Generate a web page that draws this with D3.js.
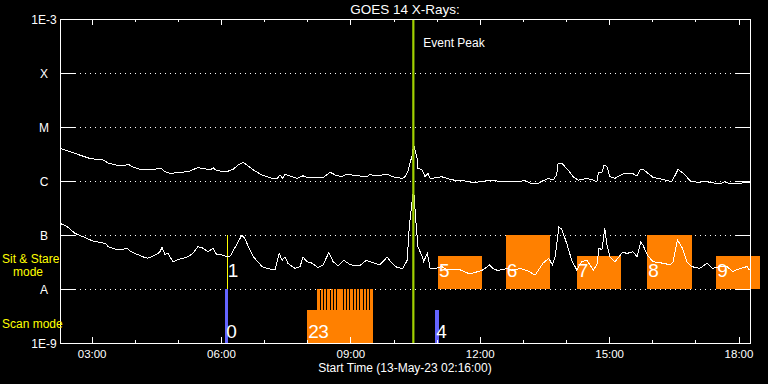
<!DOCTYPE html>
<html><head><meta charset="utf-8">
<script src="https://cdn.jsdelivr.net/npm/d3@7"></script>
<style>
html,body{margin:0;padding:0;background:#000;}
svg{display:block;background:#000;}
text{font-family:"Liberation Sans",Arial,sans-serif;fill:#fff;}
</style></head><body>
<svg id="chart" width="768" height="384"></svg>
<script>
// ---------- data ----------
const DAY = "2023-05-13";
const startTime = "02:16:00";
const endTime = "18:16:00";
const titleText = "GOES 14 X-Rays:";
const xAxisTitle = "Start Time (13-May-23 02:16:00)";
const levelValues = [1e-9, 1e-8, 1e-7, 1e-6, 1e-5, 1e-4, 1e-3];
const levelLabels = ["1E-9", "A", "B", "C", "M", "X", "1E-3"];
const gridLevels = [1e-8, 1e-7, 1e-6, 1e-5, 1e-4];
const peakTime = "10:27:36";
const peakLabel = "Event Peak";

// GOES long channel (1-8 A)
const longTimes = ["02:16","02:30","02:44","02:58","03:16","03:23","03:33","03:46","03:51","03:56",
"04:07","04:25","04:32","04:38","04:42","04:49","05:03","05:17","05:27","05:35",
"05:45","05:49","05:54","06:08","06:17","06:24","06:31","06:36","06:45","06:53",
"06:57","07:11","07:18","07:22","07:26","07:29","07:39","07:46","07:54","08:01",
"08:22","08:32","08:39","08:48","08:55","09:11","09:23","09:27","09:34","09:52",
"09:58","10:12","10:16","10:20","10:26","10:28","10:33","10:34","10:40","10:44",
"10:48","10:51","11:01","11:07","11:14","11:24","11:33","11:51","12:10","12:18",
"12:28","12:46","13:03","13:13","13:20","13:28","13:36","13:42","13:47","13:49",
"13:54","14:03","14:10","14:17","14:29","14:38","14:43","14:45","14:50","14:53",
"14:57","15:01","15:08","15:12","15:19","15:32","15:39","15:43","15:47","15:54",
"16:01","16:15","16:27","16:32","16:36","16:43","16:53","17:02","17:16","17:34",
"17:41","17:48","18:02","18:09","18:16"];
const longFlux = [4.0e-6,3.5e-6,3.0e-6,2.6e-6,2.45e-6,2.15e-6,1.98e-6,1.92e-6,2.06e-6,1.84e-6,
1.65e-6,1.60e-6,1.72e-6,1.67e-6,1.49e-6,1.39e-6,1.43e-6,1.53e-6,1.76e-6,1.72e-6,
1.60e-6,1.76e-6,1.55e-6,1.49e-6,1.65e-6,1.98e-6,2.22e-6,1.98e-6,1.60e-6,1.39e-6,
1.29e-6,1.12e-6,1.09e-6,1.29e-6,1.12e-6,1.33e-6,1.20e-6,1.12e-6,1.25e-6,1.15e-6,
1.15e-6,1.45e-6,1.29e-6,1.20e-6,1.33e-6,1.25e-6,1.20e-6,1.33e-6,1.25e-6,1.33e-6,
1.20e-6,1.12e-6,1.20e-6,1.49e-6,3.03e-6,4.64e-6,2.63e-6,1.72e-6,1.60e-6,1.20e-6,
1.39e-6,1.12e-6,1.15e-6,1.20e-6,1.12e-6,1.04e-6,1.04e-6,0.93e-6,1.01e-6,1.04e-6,
0.97e-6,0.97e-6,1.01e-6,0.88e-6,0.88e-6,1.01e-6,1.12e-6,1.04e-6,1.29e-6,2.13e-6,
2.13e-6,1.60e-6,1.20e-6,1.04e-6,1.12e-6,1.04e-6,0.97e-6,1.43e-6,1.43e-6,1.98e-6,
1.84e-6,1.20e-6,1.12e-6,1.20e-6,1.35e-6,1.39e-6,1.24e-6,1.60e-6,1.65e-6,1.39e-6,
1.17e-6,1.07e-6,0.97e-6,1.29e-6,1.65e-6,1.39e-6,1.01e-6,0.95e-6,0.97e-6,0.88e-6,
0.97e-6,0.88e-6,0.88e-6,0.96e-6,0.93e-6];

// GOES short channel (0.5-4 A)
const shortTimes = ["02:16","02:26","02:37","02:48","03:02","03:12","03:19","03:23","03:33","03:42",
"03:49","03:53","04:03","04:11","04:18","04:31","04:35","04:38","04:42","04:46",
"04:53","05:03","05:10","05:14","05:21","05:28","05:35","05:42","05:49","05:54",
"05:59","06:08","06:13","06:19","06:24","06:29","06:33","06:38","06:45","06:53",
"06:57","07:05","07:15","07:21","07:25","07:29","07:33","07:43","07:50","07:54",
"08:00","08:07","08:15","08:22","08:30","08:36","08:43","08:51","09:00","09:13",
"09:22","09:31","09:41","09:47","09:51","09:58","10:05","10:13","10:19","10:22",
"10:26","10:28","10:31","10:34","10:40","10:42","10:47","10:51","10:58","11:07",
"11:16","11:33","11:46","12:03","12:14","12:18","12:25","12:38","12:46","12:56",
"13:06","13:17","13:28","13:36","13:41","13:45","13:50","13:54","14:01","14:08",
"14:15","14:22","14:29","14:38","14:43","14:46","14:50","14:54","14:57","15:01",
"15:08","15:12","15:18","15:26","15:33","15:39","15:44","15:47","15:53","16:01",
"16:15","16:25","16:29","16:35","16:42","16:48","16:55","17:06","17:16","17:24",
"17:34","17:44","17:52","18:02","18:12","18:15"];
const shortFlux = [16.5e-8,14.3e-8,10.7e-8,9.3e-8,7.7e-8,7.3e-8,7.0e-8,6.1e-8,5.5e-8,5.3e-8,
5.7e-8,5.1e-8,4.4e-8,3.96e-8,3.7e-8,4.4e-8,4.9e-8,5.9e-8,4.4e-8,4.6e-8,
3.2e-8,3.6e-8,3.8e-8,3.96e-8,4.6e-8,6.1e-8,5.7e-8,4.9e-8,5.7e-8,4.3e-8,
4.4e-8,3.96e-8,4.1e-8,5.7e-8,7.5e-8,10e-8,8.7e-8,6.1e-8,3.96e-8,3.0e-8,
2.6e-8,2.4e-8,2.25e-8,4.6e-8,3.4e-8,3.96e-8,3.0e-8,2.4e-8,2.6e-8,3.9e-8,
3.2e-8,3.0e-8,2.5e-8,2.8e-8,4.7e-8,3.2e-8,2.7e-8,3.4e-8,2.8e-8,2.7e-8,
3.4e-8,3.1e-8,2.8e-8,3.4e-8,3.9e-8,3.0e-8,2.5e-8,2.4e-8,3.4e-8,14.3e-8,
44e-8,68e-8,19e-8,6.1e-8,3.96e-8,3.2e-8,4.6e-8,2.4e-8,2.4e-8,2.6e-8,
2.25e-8,2.25e-8,1.9e-8,2.2e-8,2.8e-8,2.4e-8,2.2e-8,2.4e-8,2.2e-8,2.4e-8,
2.2e-8,1.8e-8,3.0e-8,3.7e-8,2.8e-8,3.96e-8,13.9e-8,12.8e-8,7.0e-8,3.4e-8,
2.25e-8,3.2e-8,3.4e-8,2.25e-8,2.8e-8,5.7e-8,5.3e-8,13.3e-8,6.5e-8,3.96e-8,
3.2e-8,3.7e-8,4.7e-8,4.6e-8,4.9e-8,3.96e-8,7.5e-8,6.5e-8,4.3e-8,3.2e-8,
3.0e-8,2.8e-8,3.2e-8,8.1e-8,5.7e-8,3.2e-8,2.6e-8,2.4e-8,3.0e-8,2.4e-8,
2.6e-8,2.6e-8,2.1e-8,2.4e-8,2.6e-8,2.25e-8];

// Sit & Stare mode events (band A..B)
const ssBandLabel = ["Sit & Stare", "mode"];
const ssNum   = ["1", "5", "6", "7", "8", "9"];
const ssStart = ["06:08", "11:02", "12:36", "14:15", "15:53", "17:29"];
const ssEnd   = ["06:08", "12:03", "13:38", "15:16", "16:55", "18:30"];
const ssTop   = [1e-7, 4e-8, 1e-7, 4e-8, 1e-7, 4e-8];
const ssColor = ["#ffff00", "#ff8000", "#ff8000", "#ff8000", "#ff8000", "#ff8000"];
const ssBase = 1e-8;

// Scan mode events (band 1E-9..A)
const scBandLabel = "Scan mode";
const scNum   = ["0", "2", "4"];
const scStart = ["06:06", "08:00", "10:58"];
const scEnd   = ["06:10", "09:31", "11:03"];
const scTop   = [1e-8, 4e-9, 4e-9];
const scColor = ["#6464ff", "#ff8000", "#6464ff"];
const scBase = 1e-9;
// event 3: repeated rasters
const ev3Num = "3";
const ev3Start = ["08:14:00","08:18:36","08:23:12","08:27:48","08:32:24","08:37:00","08:41:36","08:46:12","08:50:48",
"08:55:24","09:00:00","09:04:36","09:09:12","09:13:48","09:18:24","09:23:00","09:27:36"];
const ev3End = ["08:17:20","08:21:56","08:26:32","08:31:08","08:35:44","08:40:20","08:44:56","08:49:32","08:54:08",
"08:58:44","09:03:20","09:07:56","09:12:32","09:17:08","09:21:44","09:26:20","09:31:30"];
const ev3Top = 1e-8;

// ---------- setup ----------
const parseT = s => d3.utcParse("%Y-%m-%d %H:%M:%S")(DAY + " " + (s.length === 5 ? s + ":00" : s));
const svg = d3.select("#chart");
const L = 60, R = 750, T = 19, B = 343;
const x = d3.scaleUtc().domain([parseT(startTime), parseT(endTime)]).range([L, R]);
const y = d3.scaleLog().domain([1e-9, 1e-3]).range([B, T]);

// grid
svg.append("g").selectAll("line").data(gridLevels).join("line")
  .attr("x1", L).attr("x2", R).attr("y1", d => Math.round(y(d)) + 0.5).attr("y2", d => Math.round(y(d)) + 0.5)
  .attr("stroke", "#fff").attr("stroke-width", 1).attr("stroke-dasharray", "1,4");

// event boxes
const gEv = svg.append("g").attr("shape-rendering", "crispEdges");
gEv.selectAll("rect.ev3").data(ev3Start).join("rect").attr("class", "ev3")
  .attr("x", (d, i) => x(parseT(d))).attr("width", (d, i) => x(parseT(ev3End[i])) - x(parseT(d)))
  .attr("y", y(ev3Top)).attr("height", y(scBase) - y(ev3Top)).attr("fill", "#ff8000");
gEv.selectAll("rect.sc").data(scNum).join("rect").attr("class", "sc")
  .attr("x", (d, i) => x(parseT(scStart[i])))
  .attr("width", (d, i) => Math.max(1, x(parseT(scEnd[i])) - x(parseT(scStart[i]))))
  .attr("y", (d, i) => y(scTop[i])).attr("height", (d, i) => y(scBase) - y(scTop[i]))
  .attr("fill", (d, i) => scColor[i]);
gEv.selectAll("rect.ss").data(ssNum).join("rect").attr("class", "ss")
  .attr("x", (d, i) => x(parseT(ssStart[i])))
  .attr("width", (d, i) => Math.max(1, x(parseT(ssEnd[i])) - x(parseT(ssStart[i]))))
  .attr("y", (d, i) => y(ssTop[i])).attr("height", (d, i) => y(ssBase) - y(ssTop[i]))
  .attr("fill", (d, i) => ssColor[i]);

// event labels
const numFont = "'Liberation Sans Narrow','DejaVu Sans Condensed','Liberation Sans',sans-serif";
const gLab = svg.append("g").style("font-family", numFont).style("font-size", "19px");
gLab.selectAll("text.ss").data(ssNum).join("text").attr("class", "ss")
  .attr("x", (d, i) => x(parseT(ssStart[i])) + 1).attr("y", y(ssBase) - 12).text(d => d);
gLab.selectAll("text.sc").data(scNum).join("text").attr("class", "sc")
  .attr("x", (d, i) => x(parseT(scStart[i])) + 1).attr("y", y(scBase) - 5).text(d => d);
gLab.append("text").attr("x", x(parseT(ev3Start[0])) + 1).attr("y", y(scBase) - 5).text(ev3Num);

// curves
const line = d3.line().x(d => x(d[0])).y(d => y(d[1]));
const longData = longTimes.map((t, i) => [parseT(t), longFlux[i]]);
const shortData = shortTimes.map((t, i) => [parseT(t), shortFlux[i]]);
[longData, shortData].forEach(dat => {
  svg.append("path").datum(dat).attr("d", line).attr("fill", "none")
    .attr("stroke", "#fff").attr("stroke-width", 1).attr("shape-rendering", "crispEdges");
});

// event peak line
svg.append("line").attr("x1", x(parseT(peakTime))).attr("x2", x(parseT(peakTime)))
  .attr("y1", T).attr("y2", B).attr("stroke", "#a0d000").attr("stroke-width", 2.2);
svg.append("text").attr("x", x(parseT(peakTime)) + 10).attr("y", 47)
  .style("font-size", "12px").text(peakLabel);

// axes
const hours = x.ticks(d3.utcHour.every(1));
const major = x.ticks(d3.utcHour.every(3));
function styleAxis(g) {
  g.select(".domain").remove();
  g.selectAll("line").attr("stroke", "#fff").attr("shape-rendering", "crispEdges");
  g.selectAll("text").attr("fill", "#fff").style("font-family", "'Liberation Sans',Arial,sans-serif").style("font-size", "11.5px");
}
svg.append("g").attr("transform", `translate(0,${B})`)
  .call(d3.axisBottom(x).tickValues(hours).tickSize(-3).tickFormat("")).call(styleAxis);
svg.append("g").attr("transform", `translate(0,${B})`)
  .call(d3.axisBottom(x).tickValues(major).tickSize(-6).tickPadding(6.5).tickFormat(d3.utcFormat("%H:%M"))).call(styleAxis);
svg.append("g").attr("transform", `translate(0,${T})`)
  .call(d3.axisTop(x).tickValues(hours).tickSize(-3).tickFormat("")).call(styleAxis);
svg.append("g").attr("transform", `translate(0,${T})`)
  .call(d3.axisTop(x).tickValues(major).tickSize(-6).tickFormat("")).call(styleAxis);
const yLeft = svg.append("g").attr("transform", `translate(${L},0)`)
  .call(d3.axisLeft(y).tickValues(levelValues).tickSize(-15).tickPadding(16)
    .tickFormat((d, i) => levelLabels[i])).call(styleAxis);
yLeft.selectAll("text").attr("text-anchor", "middle").attr("dy", "0.34em").style("font-size", "12px");
svg.append("g").attr("transform", `translate(${R},0)`)
  .call(d3.axisRight(y).tickValues(levelValues).tickSize(-14).tickFormat("")).call(styleAxis);

// frame
svg.append("rect").attr("x", L).attr("y", T).attr("width", R - L).attr("height", B - T)
  .attr("fill", "none").attr("stroke", "#fff").attr("stroke-width", 1).attr("shape-rendering", "crispEdges");

// titles
svg.append("text").attr("x", (L + R) / 2).attr("y", 14).attr("text-anchor", "middle")
  .style("font-size", "13.5px").text(titleText);
svg.append("text").attr("x", (L + R) / 2).attr("y", 372).attr("text-anchor", "middle")
  .style("font-size", "12px").text(xAxisTitle);

// band labels
const yel = svg.append("g").style("font-size", "12px");
yel.append("text").attr("x", 2).attr("y", 263).style("fill", "#ffff00").text(ssBandLabel[0]);
yel.append("text").attr("x", 13).attr("y", 276).style("fill", "#ffff00").text(ssBandLabel[1]);
yel.append("text").attr("x", 2).attr("y", 328).style("fill", "#ffff00").text(scBandLabel);
</script>
</body></html>
